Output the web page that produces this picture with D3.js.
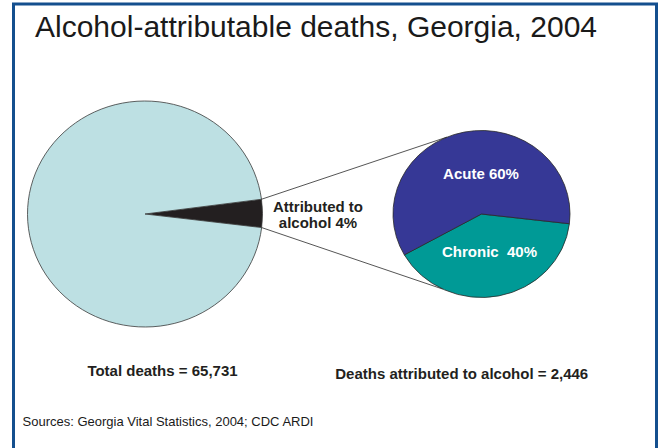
<!DOCTYPE html>
<html>
<head>
<meta charset="utf-8">
<script src="https://cdn.jsdelivr.net/npm/d3@7/dist/d3.min.js"></script>
<style>
  html, body { margin: 0; padding: 0; background: #ffffff; }
  svg { display: block; font-family: "Liberation Sans", Arial, Helvetica, sans-serif; }
</style>
</head>
<body>
<svg id="chart" width="662" height="448"></svg>
<script>
// ---- data ----
const titleText = "Alcohol-attributable deaths, Georgia, 2004";
const overallCategories = ["Attributed to alcohol", "Other causes"];
const overallShares = [4, 96];
const alcoholCategories = ["Chronic", "Acute"];
const alcoholShares = [40, 60];
const alcoholLabels = ["Chronic  40%", "Acute 60%"];
const wedgeLabelLines = ["Attributed to", "alcohol 4%"];
const totalDeathsText = "Total deaths = 65,731";
const alcoholDeathsText = "Deaths attributed to alcohol = 2,446";
const sourceText = "Sources: Georgia Vital Statistics, 2004; CDC ARDI";

// ---- layout ----
const svg = d3.select("#chart");
const deg = Math.PI / 180;
const inkDark = "#231f20";

// frame (open at bottom)
svg.append("path")
  .attr("d", "M13.5,460 L13.5,4 L656.5,4 L656.5,460")
  .attr("fill", "none").attr("stroke", "#144f8e").attr("stroke-width", 3);

svg.append("text")
  .attr("x", 35).attr("y", 37)
  .attr("font-size", 30).attr("fill", "#1a1a1a")
  .text(titleText);

// big pie
const big = { cx: 145, cy: 214, r: 115, rx: 117.5, ry: 113 };
const bigColor = d3.scaleOrdinal().domain(overallCategories).range([inkDark, "#bde0e3"]);
const bigStart = 82.5 * deg;
const bigPie = d3.pie().sort(null).value(d => d.v)
  .startAngle(bigStart).endAngle(bigStart + 2 * Math.PI);
const bigData = bigPie(overallCategories.map((c, i) => ({ c, v: overallShares[i] })));
const bigArc = d3.arc().innerRadius(0).outerRadius(big.r);
const gBig = svg.append("g")
  .attr("transform", `translate(${big.cx},${big.cy}) scale(${big.rx / big.r},${big.ry / big.r})`);
gBig.selectAll("path").data(bigData).join("path")
  .attr("d", bigArc)
  .attr("fill", d => bigColor(d.data.c))
  .attr("stroke", "#3a3a3a").attr("stroke-width", 0.8)
  .attr("vector-effect", "non-scaling-stroke");

// small pie
const small = { cx: 481.5, cy: 214, r: 86, rx: 88.5, ry: 83.5 };
const smallColor = d3.scaleOrdinal().domain(alcoholCategories).range(["#009a96", "#363896"]);
const smallStart = 96.7 * deg;
const smallPie = d3.pie().sort(null).value(d => d.v)
  .startAngle(smallStart).endAngle(smallStart + 2 * Math.PI);
const smallData = smallPie(alcoholCategories.map((c, i) => ({ c, v: alcoholShares[i], label: alcoholLabels[i] })));
const smallArc = d3.arc().innerRadius(0).outerRadius(small.r);
const gSmall = svg.append("g")
  .attr("transform", `translate(${small.cx},${small.cy}) scale(${small.rx / small.r},${small.ry / small.r})`);
gSmall.selectAll("path").data(smallData).join("path")
  .attr("d", smallArc)
  .attr("fill", d => smallColor(d.data.c))
  .attr("stroke", "#2a2a2a").attr("stroke-width", 0.8)
  .attr("vector-effect", "non-scaling-stroke");

// connector lines from wedge edges to the small pie
function onEllipse(p, a) {
  return [p.cx + p.rx * Math.sin(a), p.cy - p.ry * Math.cos(a)];
}
const wedge = bigData[0];
const conn = [
  [onEllipse(big, wedge.startAngle), onEllipse(small, -23 * deg)],
  [onEllipse(big, wedge.endAngle), onEllipse(small, 206 * deg)]
];
svg.selectAll("line.conn").data(conn).join("line")
  .attr("class", "conn")
  .attr("x1", d => d[0][0]).attr("y1", d => d[0][1])
  .attr("x2", d => d[1][0]).attr("y2", d => d[1][1])
  .attr("stroke", "#2a2a2a").attr("stroke-width", 0.8);

// labels
svg.append("text")
  .attr("text-anchor", "middle").attr("font-size", 15).attr("font-weight", "bold")
  .attr("fill", inkDark)
  .selectAll("tspan").data(wedgeLabelLines).join("tspan")
  .attr("x", 318).attr("y", (d, i) => 211.5 + i * 16.8)
  .text(d => d);

const smallLabelPos = { "Chronic": [489.5, 256.5], "Acute": [481, 179] };
svg.selectAll("text.slab").data(smallData).join("text")
  .attr("class", "slab")
  .attr("x", d => smallLabelPos[d.data.c][0]).attr("y", d => smallLabelPos[d.data.c][1])
  .attr("text-anchor", "middle").attr("font-size", 15).attr("font-weight", "bold")
  .attr("fill", "#ffffff").style("white-space", "pre")
  .text(d => d.data.label);

svg.append("text")
  .attr("x", 162.5).attr("y", 376).attr("text-anchor", "middle")
  .attr("font-size", 15).attr("font-weight", "bold").attr("fill", inkDark)
  .text(totalDeathsText);
svg.append("text")
  .attr("x", 461.7).attr("y", 379).attr("text-anchor", "middle")
  .attr("font-size", 15).attr("font-weight", "bold").attr("fill", inkDark)
  .text(alcoholDeathsText);
svg.append("text")
  .attr("x", 22.5).attr("y", 426)
  .attr("font-size", 13).attr("fill", "#1a1a1a")
  .text(sourceText);
</script>
</body>
</html>
